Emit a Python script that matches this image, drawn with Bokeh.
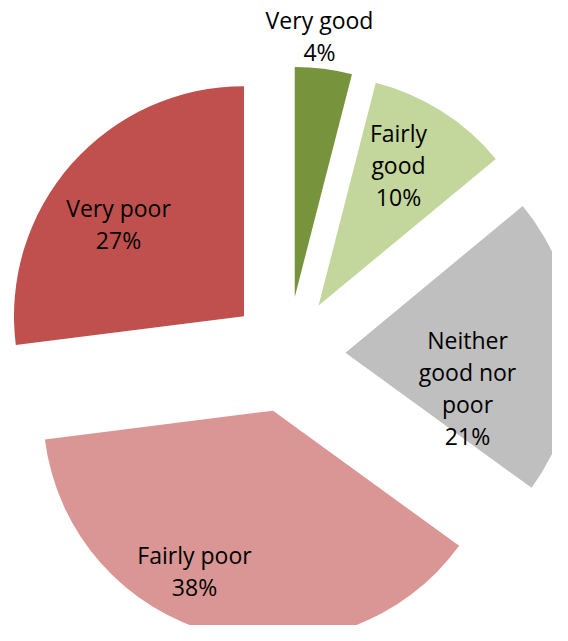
import math
from bokeh.plotting import figure
from bokeh.models import ColumnDataSource, Range1d
from bokeh.core.properties import value
from bokeh.embed import file_html
from bokeh.resources import INLINE

# ---- data ----
categories = ["Very good", "Fairly good", "Neither good nor poor", "Fairly poor", "Very poor"]
percentages = [4, 10, 21, 38, 27]
display_labels = ["Very good", "Fairly\ngood", "Neither\ngood nor\npoor", "Fairly poor", "Very poor"]
colors = ["#77933C", "#C3D69B", "#BFBFBF", "#D99694", "#C0504D"]

# ---- layout (pixels == data units) ----
W, H = 552, 625
CX, CY = 287, 271          # pie centre
RADIUS = 230
EXPLODE = 58
LINE_GAP = 32
FONT = "Open Sans"
FONT_SIZE = "23px"
# first-line baseline offsets of each label relative to pie centre
LABEL_OFFSETS = [(32, 335), (111, 222), (180, 15), (-93, -200), (-169, 147)]

total = float(sum(percentages))
xs, ys, starts, ends = [], [], [], []
cum = 0.0
for v in percentages:
    th_s = 360.0 * cum / total
    cum += v
    th_e = 360.0 * cum / total
    mid = 90.0 - (th_s + th_e) / 2.0
    xs.append(CX + EXPLODE * math.cos(math.radians(mid)))
    ys.append(CY + EXPLODE * math.sin(math.radians(mid)))
    starts.append(90.0 - th_e)
    ends.append(90.0 - th_s)

src = ColumnDataSource(dict(x=xs, y=ys, start=starts, end=ends, color=colors, cat=categories))

p = figure(width=W, height=H, x_range=Range1d(0, W), y_range=Range1d(0, H),
           output_backend="svg", toolbar_location=None, min_border=0)
p.axis.visible = False
p.grid.visible = False
p.outline_line_color = None
p.background_fill_color = "white"
p.border_fill_color = "white"

p.wedge(x="x", y="y", radius=RADIUS, start_angle="start", end_angle="end",
        start_angle_units="deg", end_angle_units="deg", direction="anticlock",
        fill_color="color", line_color=None, source=src)

tx, ty, tt = [], [], []
for lab, pct, (dx, dy) in zip(display_labels, percentages, LABEL_OFFSETS):
    lines = lab.split("\n") + ["%d%%" % pct]
    for i, ln in enumerate(lines):
        tx.append(CX + dx)
        ty.append(CY + dy - i * LINE_GAP)
        tt.append(ln)

p.text(x=tx, y=ty, text=tt, text_align="center", text_baseline="alphabetic",
       text_font=value(FONT), text_font_size=FONT_SIZE, text_color="black")

open("out.html", "w").write(file_html(p, INLINE))
